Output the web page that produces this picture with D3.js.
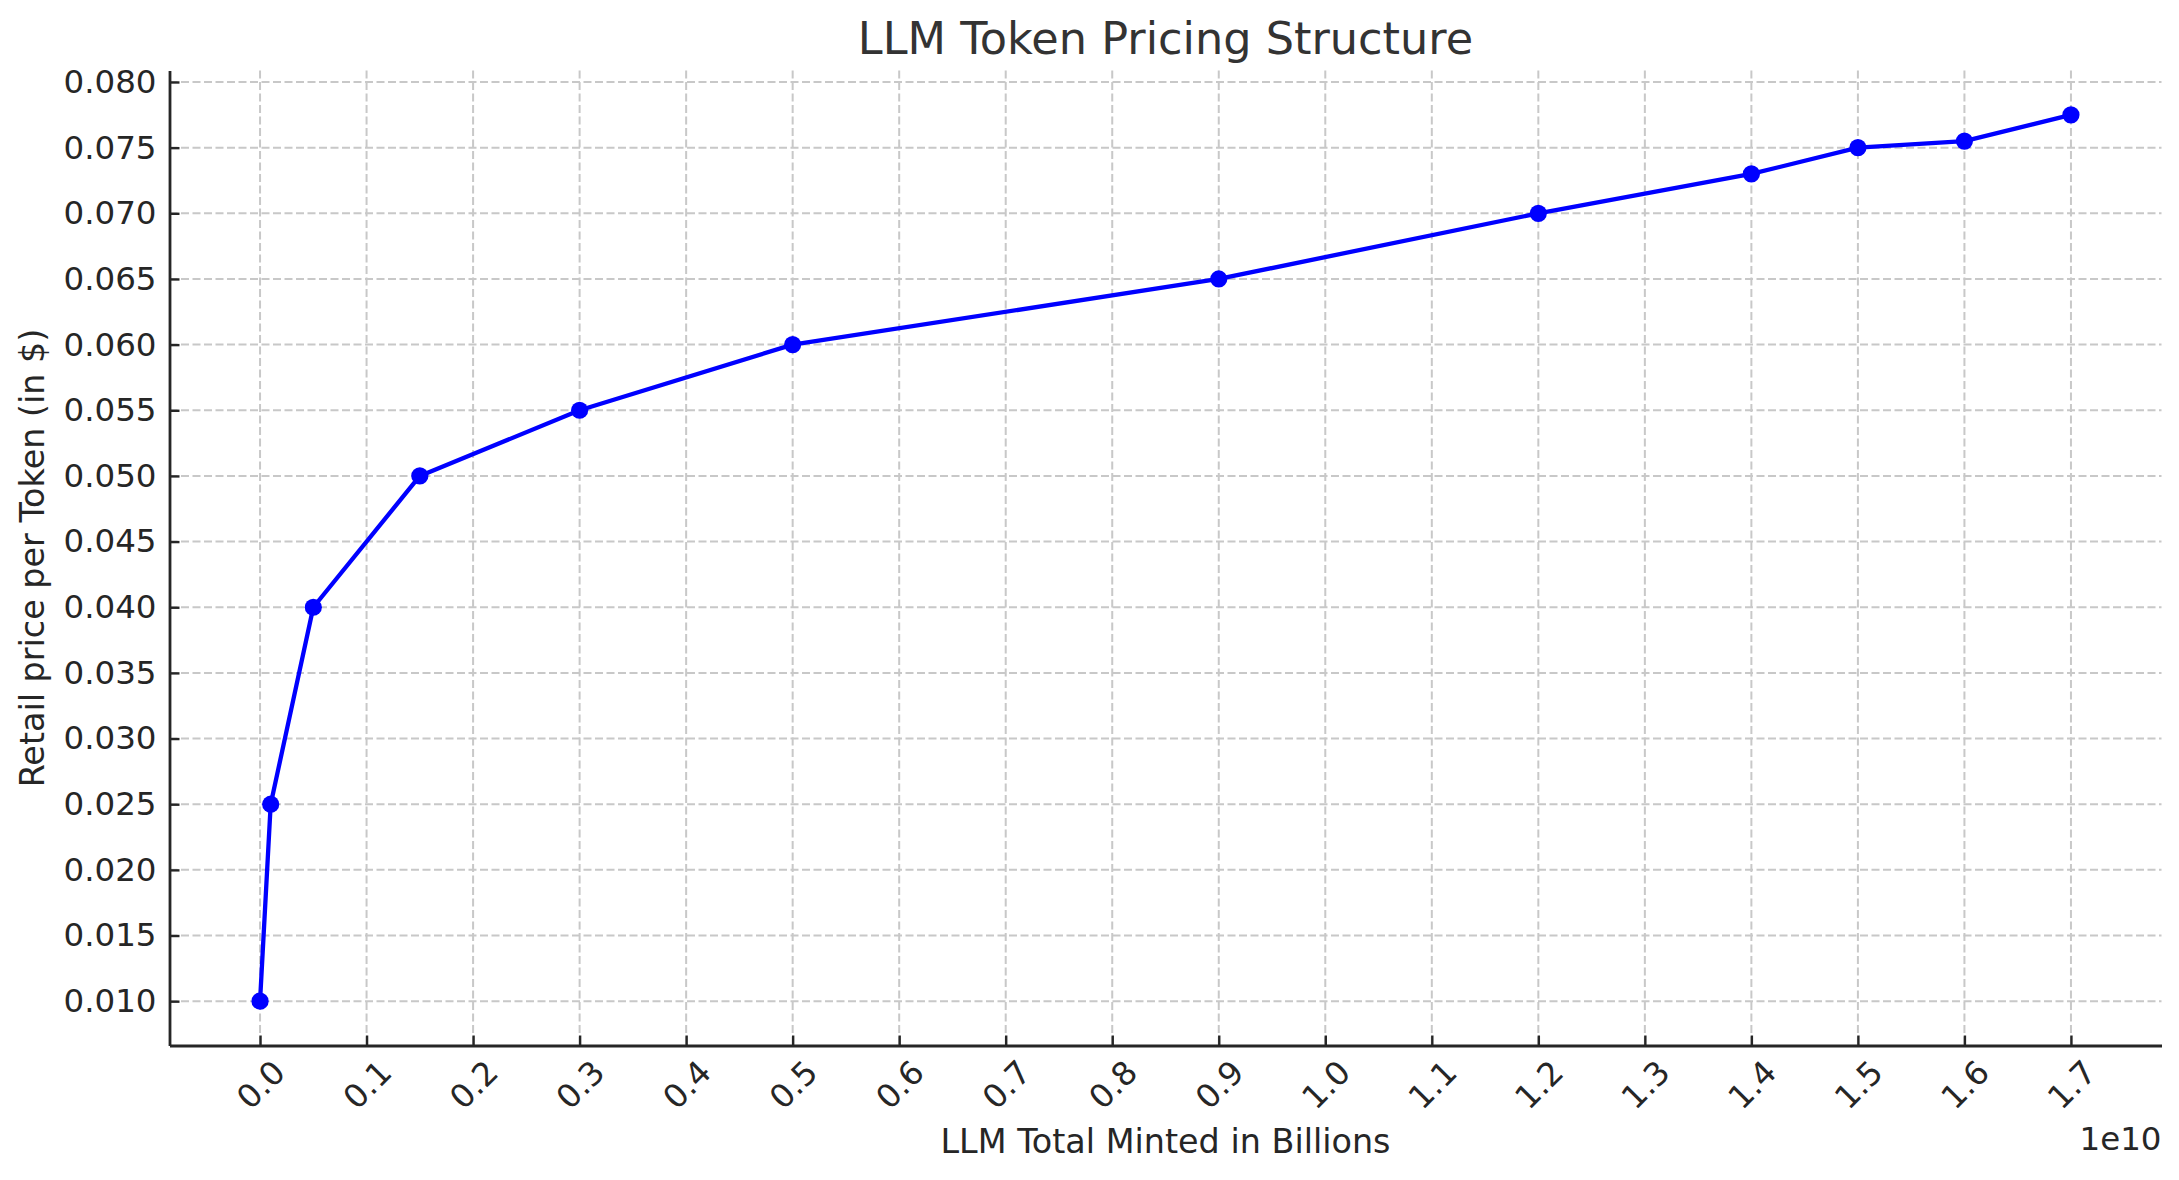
<!DOCTYPE html>
<html>
<head>
<meta charset="utf-8">
<script src="https://cdn.jsdelivr.net/npm/d3@7"></script>
<style>
  body { margin: 0; background: #fff; }
  svg text { font-family: "DejaVu Sans", sans-serif; }
</style>
</head>
<body>
<svg id="chart"></svg>
<script>
// data
const mintedTotals = [0, 1e8, 5e8, 1.5e9, 3e9, 5e9, 9e9, 1.2e10, 1.4e10, 1.5e10, 1.6e10, 1.7e10];
const retailPrices = [0.010, 0.025, 0.040, 0.050, 0.055, 0.060, 0.065, 0.070, 0.073, 0.075, 0.0755, 0.0775];

const xTicks = d3.range(0, 18).map(i => i * 1e9);
const yTicks = d3.range(2, 17).map(i => i * 0.005);

const width = 2179;
const height = 1180;
const plotLeft = 169.5, plotRight = 2161.5, plotTop = 70.5, plotBottom = 1045.5;

const svg = d3.select("#chart")
    .attr("width", width)
    .attr("height", height);

svg.append("rect")
    .attr("width", width)
    .attr("height", height)
    .attr("fill", "#fff");

// matplotlib style 5% margins
function padded(values) {
    const [lo, hi] = d3.extent(values);
    const m = (hi - lo) * 0.05;
    return [lo - m, hi + m];
}

const x = d3.scaleLinear().domain(padded(mintedTotals)).range([plotLeft, plotRight]);
const y = d3.scaleLinear().domain(padded(retailPrices)).range([plotBottom, plotTop]);

const points = mintedTotals.map((v, i) => ({ x: v, y: retailPrices[i] }));

// grid
const grid = svg.append("g").attr("class", "grid");
grid.selectAll("line.vgrid")
    .data(xTicks)
    .enter()
    .append("line")
    .attr("x1", d => x(d))
    .attr("x2", d => x(d))
    .attr("y1", plotTop)
    .attr("y2", plotBottom)
    .attr("stroke", "#c8c8c8")
    .attr("stroke-width", 2)
    .attr("stroke-dasharray", "8,3.5");
grid.selectAll("line.hgrid")
    .data(yTicks)
    .enter()
    .append("line")
    .attr("x1", plotLeft)
    .attr("x2", plotRight)
    .attr("y1", d => y(d))
    .attr("y2", d => y(d))
    .attr("stroke", "#c8c8c8")
    .attr("stroke-width", 2)
    .attr("stroke-dasharray", "8,3.5");

// line + markers
const line = d3.line().x(d => x(d.x)).y(d => y(d.y));

svg.append("path")
    .datum(points)
    .attr("fill", "none")
    .attr("stroke", "#0000ff")
    .attr("stroke-width", 4.3)
    .attr("stroke-linejoin", "round")
    .attr("d", line);

svg.selectAll("circle.pt")
    .data(points)
    .enter()
    .append("circle")
    .attr("class", "pt")
    .attr("cx", d => x(d.x))
    .attr("cy", d => y(d.y))
    .attr("r", 8.6)
    .attr("fill", "#0000ff");

// axes
const xAxis = d3.axisBottom(x)
    .tickValues(xTicks)
    .tickSizeInner(-10)
    .tickSizeOuter(0)
    .tickFormat(d => (d / 1e10).toFixed(1));

const yAxis = d3.axisLeft(y)
    .tickValues(yTicks)
    .tickSizeInner(-10)
    .tickSizeOuter(0)
    .tickPadding(13)
    .tickFormat(d3.format(".3f"));

const gx = svg.append("g")
    .attr("transform", `translate(0, ${plotBottom})`)
    .call(xAxis);

const gy = svg.append("g")
    .attr("transform", `translate(${plotLeft}, 0)`)
    .call(yAxis);

[gx, gy].forEach(g => {
    g.select(".domain").attr("stroke", "#262626").attr("stroke-width", 2.8);
    g.selectAll(".tick line").attr("stroke", "#262626").attr("stroke-width", 2.4);
    g.selectAll(".tick text")
        .attr("fill", "#262626")
        .style("font-size", "32.5px")
        .style("font-family", "DejaVu Sans");
});

gx.selectAll(".tick text")
    .attr("y", 0)
    .attr("x", 0)
    .attr("dy", "0.36em")
    .attr("text-anchor", "middle")
    .attr("transform", "translate(0, 39) rotate(-45)");

// texts
svg.append("text")
    .attr("x", (plotLeft + plotRight) / 2)
    .attr("y", 54)
    .attr("text-anchor", "middle")
    .attr("fill", "#333333")
    .style("font-size", "44.6px")
    .text("LLM Token Pricing Structure");

svg.append("text")
    .attr("x", (plotLeft + plotRight) / 2)
    .attr("y", 1153)
    .attr("text-anchor", "middle")
    .attr("fill", "#262626")
    .style("font-size", "33.4px")
    .text("LLM Total Minted in Billions");

svg.append("text")
    .attr("transform", `translate(44, ${(plotTop + plotBottom) / 2}) rotate(-90)`)
    .attr("text-anchor", "middle")
    .attr("fill", "#262626")
    .style("font-size", "33.4px")
    .text("Retail price per Token (in $)");

svg.append("text")
    .attr("x", plotRight)
    .attr("y", 1150)
    .attr("text-anchor", "end")
    .attr("fill", "#262626")
    .style("font-size", "32.5px")
    .text("1e10");
</script>
</body>
</html>
